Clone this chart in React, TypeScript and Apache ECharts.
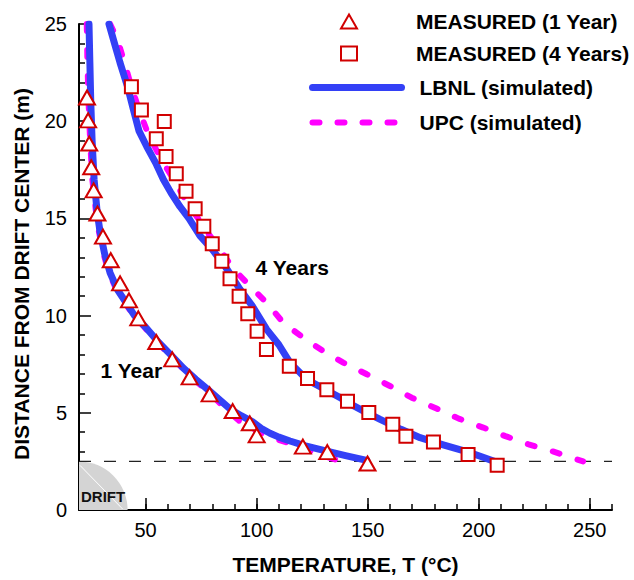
import React, { useEffect, useRef } from "react";
import * as echarts from "echarts";

// ---------- data ----------
const measured1Year: [number, number][] = [
  [23.6, 21.22], [24.1, 20.04], [24.6, 18.85], [25.5, 17.63], [26.6, 16.44],
  [28.3, 15.25], [30.8, 14.06], [34.3, 12.85], [38.5, 11.66], [42.5, 10.78],
  [46.7, 9.86], [54.8, 8.64], [62.0, 7.75], [69.8, 6.82], [78.8, 5.95],
  [89.2, 5.09], [96.9, 4.46], [100.0, 3.84], [120.8, 3.26], [131.8, 2.98],
  [149.9, 2.39],
];

const measured4Years: [number, number][] = [
  [43.6, 21.77], [48.1, 20.57], [58.4, 19.98], [54.8, 19.10], [59.2, 18.19],
  [63.8, 17.30], [68.2, 16.40], [72.3, 15.49], [76.2, 14.60], [80.0, 13.70],
  [84.3, 12.80], [88.0, 11.90], [92.1, 11.00], [96.0, 10.10], [100.2, 9.19],
  [104.4, 8.26], [114.7, 7.40], [122.9, 6.77], [131.6, 6.19], [140.9, 5.60],
  [150.5, 5.01], [161.3, 4.41], [167.2, 3.80], [179.6, 3.50], [195.2, 2.86],
  [208.3, 2.30],
];

const lbnl1Year: [number, number][] = [
  [24.5, 25], [24.9, 23], [25.3, 21], [25.9, 19], [26.8, 17], [28.2, 15.3],
  [29.5, 14.3], [31.5, 13.2], [34, 12.2], [37.5, 11.3], [41, 10.7], [45, 10.0],
  [50, 9.4], [56, 8.6], [62, 7.9], [67, 7.3], [72.6, 6.72], [78, 6.2],
  [83.1, 5.69], [88, 5.2], [93, 4.85], [98, 4.55], [102, 4.2], [106, 3.95],
  [110, 3.75], [115, 3.55], [122, 3.3], [131.6, 3.03], [140, 2.8], [149.6, 2.55],
];

const upc1Year: [number, number][] = [
  [23.5, 25], [23.8, 23], [24.3, 21], [25, 19], [26, 17], [27.7, 15.3],
  [29, 14.3], [31, 13.2], [33.5, 12.2], [37, 11.3], [40.5, 10.7], [44.5, 10.0],
  [49.5, 9.4], [55.5, 8.6], [61.5, 7.9], [66.5, 7.3], [72, 6.7], [77.5, 6.15],
  [82.5, 5.6], [87.5, 5.05], [92, 4.6], [97, 4.25], [102, 3.95], [107, 3.72],
  [113.6, 3.47], [120, 3.2], [126, 2.95], [132, 2.72], [138.3, 2.5],
];

const lbnl4Years: [number, number][] = [
  [33.5, 25], [36, 24], [38.5, 23], [41.8, 21.8], [44.5, 20.6], [47, 19.5],
  [50.5, 18.7], [54.5, 17.86], [58, 17.0], [61.5, 16.3], [65.5, 15.6],
  [69.5, 15.0], [74.5, 14.1], [80, 13.4], [86, 12.5], [92.5, 11.35],
  [98, 10.5], [104.5, 9.29], [110, 8.5], [115, 7.58], [122.5, 6.72],
  [130, 6.25], [137.6, 5.78], [140.6, 5.55], [148, 5.1], [155.6, 4.66],
  [165, 4.15], [173.6, 3.72], [184, 3.35], [194.6, 3.0], [201, 2.75], [207, 2.5],
];

const upc4Years: [number, number][] = [
  [34, 25], [37.3, 24.2], [40.5, 23.0], [43.5, 21.8], [47, 20.6], [50.6, 19.5],
  [54, 18.7], [57.5, 17.94], [63.6, 16.83], [68.1, 15.9], [73, 15.1],
  [78, 14.25], [83, 13.5], [86.5, 12.9], [90, 12.35], [97, 11.52],
  [104.5, 10.66], [112, 9.63], [121, 8.86], [130, 8.17], [139, 7.58],
  [149.6, 6.98], [160, 6.38], [169.8, 5.78], [181, 5.22], [191, 4.7],
  [202, 4.24], [212, 3.8], [222.4, 3.38], [233.7, 3.0], [244, 2.61], [247, 2.5],
];

const driftLevel: [number, number][] = [[20, 2.5], [260, 2.5]];
const driftCenter: [number, number][] = [[20, 0]];
const driftRadius = 2.5;

const annotationLabels = ["4 Years", "1 Year"];
const annotationX = [99.3, 29.5];
const annotationY = [12.48, 7.18];

const xMajorTicks = [50, 100, 150, 200, 250];
const markerLegendNames = ["MEASURED (1 Year)", "MEASURED (4 Years)"];
const lineLegendNames = ["LBNL (simulated)", "UPC (simulated)"];

const FONT = "Liberation Sans, Arial, Helvetica, sans-serif";
const BLUE = "#3340f6";
const MAGENTA = "#ff00ff";
const RED = "#d10000";

const legendText = {
  fontFamily: FONT,
  fontSize: 21,
  fontWeight: "bold",
  color: "#000",
};

export default function App() {
  const ref = useRef<HTMLDivElement>(null);

  useEffect(() => {
    document.body.style.margin = "0";
    if (!ref.current) return;
    const chart = echarts.init(ref.current, undefined, { renderer: "svg" });

    const option: any = {
      animation: false,
      backgroundColor: "#fff",
      textStyle: { fontFamily: FONT },
      grid: { left: 79, right: 22, top: 24, bottom: 69, containLabel: false },
      legend: [
        {
          orient: "vertical",
          left: 340,
          top: 11,
          padding: 0,
          itemWidth: 16,
          itemHeight: 14,
          itemGap: 11,
          selectedMode: false,
          data: markerLegendNames,
          textStyle: { ...legendText, padding: [0, 0, 0, 54] },
        },
        {
          orient: "vertical",
          left: 309,
          top: 77,
          padding: 0,
          itemWidth: 89,
          itemHeight: 14,
          itemGap: 14,
          selectedMode: false,
          itemStyle: { opacity: 0 },
          data: [
            { name: lineLegendNames[0], lineStyle: { width: 7, color: BLUE, cap: "round" } },
            { name: lineLegendNames[1], lineStyle: { width: 6, color: MAGENTA, type: [7, 18], cap: "round" } },
          ],
          textStyle: { ...legendText, padding: [0, 0, 0, 13] },
        },
      ],
      xAxis: [
        {
          type: "value",
          min: 20,
          max: 260,
          interval: 10,
          name: "TEMPERATURE, T (°C)",
          nameLocation: "middle",
          nameGap: 44,
          nameTextStyle: { fontFamily: FONT, fontSize: 21, fontWeight: "bold", color: "#000" },
          axisLine: { show: true, onZero: false, lineStyle: { color: "#000", width: 2 } },
          axisTick: { show: true, inside: true, length: 6, lineStyle: { color: "#000", width: 1.5 } },
          axisLabel: {
            fontFamily: FONT,
            fontSize: 20,
            color: "#000",
            margin: 10,
            formatter: (v: number) => (xMajorTicks.indexOf(v) >= 0 ? String(v) : ""),
          },
          splitLine: { show: false },
        },
        {
          type: "value",
          min: 20,
          max: 260,
          interval: 10,
          position: "bottom",
          axisLine: { show: false },
          axisTick: {
            show: true,
            inside: true,
            length: 12,
            customValues: xMajorTicks,
            lineStyle: { color: "#000", width: 1.5 },
          },
          axisLabel: { show: false },
          splitLine: { show: false },
        },
      ],
      yAxis: {
        type: "value",
        min: 0,
        max: 25,
        interval: 5,
        name: "DISTANCE FROM DRIFT CENTER (m)",
        nameLocation: "middle",
        nameGap: 47,
        nameTextStyle: {
          fontFamily: FONT,
          fontSize: 21,
          fontWeight: "bold",
          color: "#000",
          padding: [0, 14, 0, 0],
        },
        axisLine: { show: true, onZero: false, lineStyle: { color: "#000", width: 2 } },
        axisTick: { show: true, inside: true, length: 12, lineStyle: { color: "#000", width: 1.5 } },
        minorTick: { show: true, splitNumber: 5, length: 6, lineStyle: { color: "#000", width: 1.5 } },
        axisLabel: { fontFamily: FONT, fontSize: 20, color: "#000", margin: 12 },
        splitLine: { show: false },
      },
      series: [
        {
          type: "custom",
          name: "drift",
          silent: true,
          z: 1,
          data: driftCenter,
          renderItem: (_params: any, api: any) => {
            const c = api.coord([api.value(0), api.value(1)]);
            const t = api.coord([api.value(0), api.value(1) + driftRadius]);
            const r = c[1] - t[1];
            return {
              type: "group",
              children: [
                {
                  type: "sector",
                  shape: { cx: c[0], cy: c[1], r0: 0, r, startAngle: -Math.PI / 2, endAngle: 0 },
                  style: { fill: "#d4d4d4" },
                },
                {
                  type: "line",
                  shape: { x1: c[0] + 1, y1: c[1] - r + 4, x2: c[0] + r - 5, y2: c[1] - 1 },
                  style: { stroke: "#ffffff", lineWidth: 1 },
                },
                {
                  type: "text",
                  style: {
                    text: "DRIFT",
                    x: c[0] + 2,
                    y: c[1] - 14,
                    font: `bold 15px ${FONT}`,
                    fill: "#111",
                    verticalAlign: "middle",
                    align: "left",
                  },
                },
              ],
            };
          },
        },
        {
          type: "line",
          name: "driftLevel",
          silent: true,
          data: driftLevel,
          symbol: "none",
          z: 2,
          lineStyle: { color: "#222", width: 1.3, type: [12, 13] },
        },
        {
          type: "line",
          name: "UPC (simulated)",
          data: upc1Year,
          symbol: "none",
          z: 3,
          color: MAGENTA,
          itemStyle: { color: MAGENTA },
          lineStyle: { color: MAGENTA, width: 6, type: [7, 19], cap: "round" },
        },
        {
          type: "line",
          name: "UPC (simulated)",
          data: upc4Years,
          symbol: "none",
          z: 3,
          color: MAGENTA,
          itemStyle: { color: MAGENTA },
          lineStyle: { color: MAGENTA, width: 6, type: [7, 19], cap: "round" },
        },
        {
          type: "line",
          name: "LBNL (simulated)",
          data: lbnl1Year,
          symbol: "none",
          z: 4,
          color: BLUE,
          itemStyle: { color: BLUE },
          lineStyle: { color: BLUE, width: 7, cap: "round", join: "round" },
        },
        {
          type: "line",
          name: "LBNL (simulated)",
          data: lbnl4Years,
          symbol: "none",
          z: 4,
          color: BLUE,
          itemStyle: { color: BLUE },
          lineStyle: { color: BLUE, width: 7, cap: "round", join: "round" },
        },
        {
          type: "scatter",
          name: "MEASURED (1 Year)",
          data: measured1Year,
          symbol: "triangle",
          symbolSize: [16, 14],
          z: 5,
          itemStyle: { color: "#ffffff", borderColor: RED, borderWidth: 2, opacity: 1 },
        },
        {
          type: "scatter",
          name: "MEASURED (4 Years)",
          data: measured4Years,
          symbol: "rect",
          symbolSize: 13,
          z: 5,
          itemStyle: { color: "#ffffff", borderColor: RED, borderWidth: 2, opacity: 1 },
        },
        {
          type: "scatter",
          name: "annotations",
          silent: true,
          z: 6,
          symbolSize: 1,
          itemStyle: { color: "rgba(0,0,0,0)", opacity: 1 },
          data: annotationLabels.map((n, i) => ({ name: n, value: [annotationX[i], annotationY[i]] })),
          label: {
            show: true,
            position: "right",
            distance: 0,
            formatter: (p: any) => p.name,
            fontFamily: FONT,
            fontSize: 21,
            fontWeight: "bold",
            color: "#000",
          },
        },
      ],
    };

    chart.setOption(option);
    return () => chart.dispose();
  }, []);

  return <div ref={ref} style={{ width: 634, height: 580 }} />;
}
